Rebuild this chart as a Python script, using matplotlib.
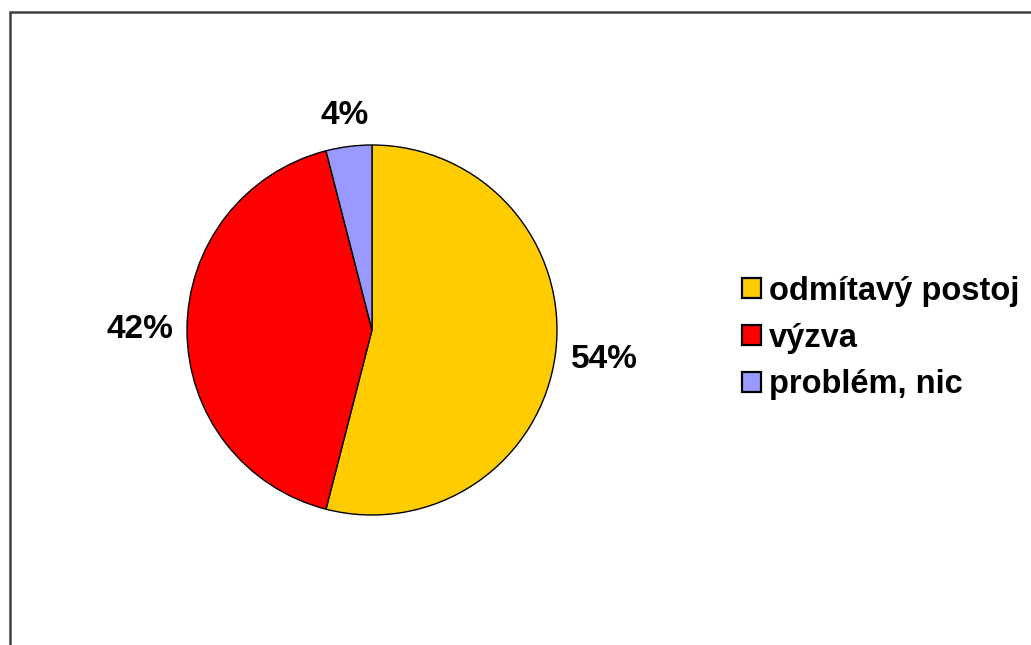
import matplotlib
matplotlib.use("Agg")
import numpy as np
import matplotlib.pyplot as plt
from matplotlib.patches import Rectangle

labels = ["odmítavý postoj", "výzva", "problém, nic"]
values = [54, 42, 4]
colors = ["#FFCC00", "#FF0000", "#9999FF"]

plt.rcParams['font.family'] = ['Liberation Sans', 'DejaVu Sans']

W, H = 1031, 645
fig = plt.figure(figsize=(W / 100, H / 100), dpi=100)

# outer frame (only left and top edges visible in the original)
fig.patches.append(Rectangle((10 / W, -0.5), 1.2, 1.5 - 12 / H, transform=fig.transFigure,
                             fill=False, edgecolor="#404040", linewidth=1.8))

cx, cy, r = 372, 330, 185
ax = fig.add_axes([(cx - r) / W, (H - cy - r) / H, 2 * r / W, 2 * r / H])
wedges, texts, autotexts = ax.pie(values, colors=colors, startangle=90, counterclock=False,
                                  autopct="%1.0f%%", pctdistance=1.2,
                                  wedgeprops=dict(edgecolor="black", linewidth=1.0),
                                  textprops=dict(fontsize=24, fontweight="bold", color="black"))
ax.set_xlim(-1, 1)
ax.set_ylim(-1, 1)
ax.set_aspect("equal")

# place each label with a fixed gap between the pie edge and the text box
fig.canvas.draw()
renderer = fig.canvas.get_renderer()
gap = 14
for w, t in zip(wedges, autotexts):
    t.set_clip_on(False)
    th = np.deg2rad((w.theta1 + w.theta2) / 2)
    bb = t.get_window_extent(renderer)
    d = r + gap + 0.5 * (bb.width * abs(np.cos(th)) + bb.height * 0.9 * abs(np.sin(th)))
    t.set_position((d / r * np.cos(th), d / r * np.sin(th)))

leg = fig.legend(wedges, labels, loc="center left", bbox_to_anchor=(713 / W, 1 - 338 / H),
                 frameon=False, prop=dict(size=23.5, weight="bold"),
                 handlelength=0.56, handleheight=0.56, handletextpad=0.25, labelspacing=0.48)
for h in leg.legend_handles:
    h.set_linewidth(1.6)

fig.savefig("out.png", dpi=100)
